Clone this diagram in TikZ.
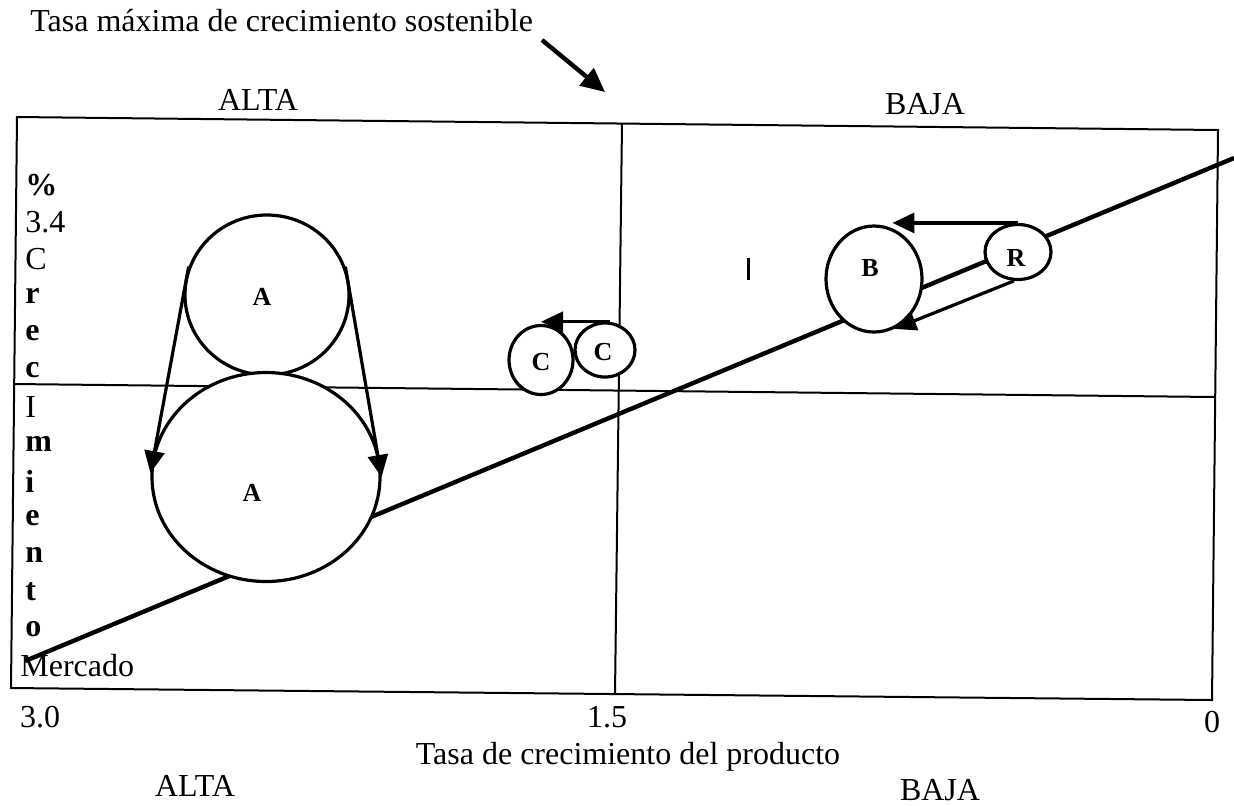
\documentclass[tikz,border=0pt]{standalone}
\usepackage{fontspec}
\setmainfont{Liberation Serif}
\usetikzlibrary{shapes.geometric,arrows.meta}
\tikzset{
  frameline/.style={line width=1pt},
  diag/.style={line width=2.2pt},
  bub/.style={ellipse, draw, line width=1.6pt, fill=white, inner sep=0pt},
  arr/.style={line width=1.6pt, -{Triangle[length=11pt,width=10pt]}},
  bigarr/.style={line width=2.2pt, -{Triangle[length=12pt,width=11pt]}},
  txt/.style={font=\fontsize{16}{19}\selectfont, inner sep=0pt},
  btxt/.style={font=\fontsize{16}{19}\selectfont\bfseries, inner sep=0pt},
  lab/.style={font=\fontsize{13}{15}\selectfont\bfseries, inner sep=0pt},
}
\begin{document}
\begin{tikzpicture}[x=0.5pt, y=-0.5pt]
\useasboundingbox (0,0) rectangle (1234,805);
% frame
\coordinate (TL) at (17,117);
\coordinate (TR) at (1218,130);
\coordinate (BR) at (1212,700);
\coordinate (BL) at (11,688);
\draw[frameline] (TL) -- (TR) -- (BR) -- (BL) -- cycle;
\coordinate (VT) at (622,123);
\coordinate (VB) at (615,694);
\draw[frameline] (VT) -- (VB);
\coordinate (HL) at (14,384);
\coordinate (HR) at (1215,397);
\draw[frameline] (HL) -- (HR);
% diagonal
\coordinate (d0) at (25,661);
\coordinate (d1) at (1234,158);
\draw[diag] (d0) -- (d1);
% bubbles
\node[bub, minimum width=82pt, minimum height=80pt] (A1) at (267,295) {};
\node[bub, minimum width=114pt, minimum height=104.5pt] (A2) at (266,477) {};
\node[bub, minimum width=32pt, minimum height=34.5pt] (C1) at (541,360) {};
\node[bub, minimum width=30pt, minimum height=27pt] (C2) at (605,350) {};
\node[bub, minimum width=48pt, minimum height=53pt] (B) at (874,279) {};
\node[bub, minimum width=33pt, minimum height=27.5pt] (R) at (1018,252) {};
% bubble labels
\node[lab] (la1) at (262,297) {A};
\node[lab] (la2) at (252,493) {A};
\node[lab] (lc1) at (541,362) {C};
\node[lab] (lc2) at (603,352) {C};
\node[lab] (lb) at (870,268) {B};
\node[lab] (lr) at (1016,258) {R};
% arrows
\draw[arr] (A1.160) -- (A2.178);
\draw[arr] (A1.20) -- (A2.0);
\draw[arr] (C2.80) -- (C2.80 -| C1.north);
\draw[arr] (R.north) -- (R.north -| B.70);
\draw[arr] (R.262) -- (B.292);
% small mark
\coordinate (m0) at (748,258);
\coordinate (m1) at (748,280);
\draw[line width=1.5pt] (m0) -- (m1);
% title
\node[txt, anchor=base west] (title) at (30,31) {Tasa máxima de crecimiento sostenible};
\coordinate (t0) at (542,40);
\coordinate (t1) at (605,92);
\draw[bigarr] (t0) -- (t1);
% top labels
\node[txt] (altaT) at (258,100) {ALTA};
\node[txt] (bajaT) at (925,104) {BAJA};
% left column
\node[btxt, anchor=west] (y0) at (25,185) {\%};
\node[txt, anchor=west] (y1) at (25,222) {3.4};
\node[txt, anchor=west] (y2) at (25,259) {C};
\node[btxt, anchor=west] (y3) at (25,296) {r};
\node[btxt, anchor=west] (y4) at (25,333) {e};
\node[btxt, anchor=west] (y5) at (25,370) {c};
\node[txt, anchor=west] (y6) at (25,407) {I};
\node[btxt, anchor=west] (y7) at (25,444) {m};
\node[btxt, anchor=west] (y8) at (25,481) {i};
\node[btxt, anchor=west] (y9) at (25,518) {e};
\node[btxt, anchor=west] (y10) at (25,555) {n};
\node[btxt, anchor=west] (y11) at (25,592) {t};
\node[btxt, anchor=west] (y12) at (25,629) {o};
\node[txt, anchor=west] (y13) at (20,666) {Mercado};
% bottom labels
\node[txt] (x0) at (40,717) {3.0};
\node[txt] (x1) at (607,717) {1.5};
\node[txt] (x2) at (1212,722) {0};
\node[txt] (xt) at (628,757) {Tasa de crecimiento del producto};
\node[txt] (altaB) at (195,786) {ALTA};
\node[txt] (bajaB) at (940,790) {BAJA};
\end{tikzpicture}
\end{document}
